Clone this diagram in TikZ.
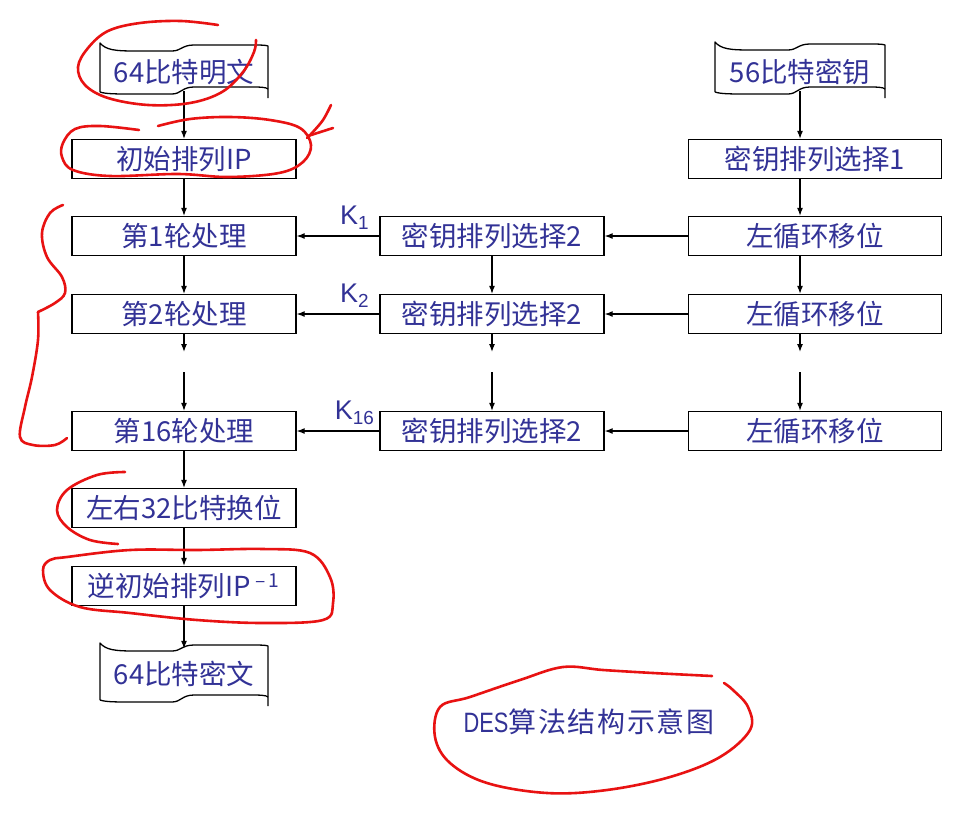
\documentclass[tikz,border=0pt]{standalone}
\usepackage{fontspec}
\setmainfont{Noto Sans CJK SC}
\newfontfamily\narrowfont[FakeStretch=0.78]{Liberation Sans}
\newfontfamily\latinfont{Liberation Sans}
\usetikzlibrary{arrows.meta,calc}
\definecolor{txtblue}{RGB}{50,50,150}
\definecolor{inkred}{RGB}{232,18,18}
\newcommand\boxfont{\fontsize{27.5}{30}\selectfont}
\newcommand\klabelfont{\latinfont\fontsize{27}{30}\selectfont}
% tape outline: x0, x1, ya (top-left corner), yb (bottom-left corner)
\newcommand\tapeoutline[4]{%
  \draw[boxline] (#1,#4) -- (#1,#3)
    .. controls ({#1+6},{#3+7}) and ({#1+15},{#3+8}) .. ({#1+35},{#3+8})
    -- ({(#1+#2)/2-12},{#3+8})
    .. controls ({(#1+#2)/2-3},{#3+8}) and ({(#1+#2)/2-2},{#3+2}) .. ({(#1+#2)/2+10},{#3+2})
    -- ({#2-20},{#3+2})
    .. controls ({#2-8},{#3+2}) and ({#2-2},{#3+2}) .. (#2,{#3+3})
    -- (#2,{#4+6});
  \draw[boxline] (#1,#4)
    .. controls ({#1+6},{#4+2}) and ({#1+15},{#4+2}) .. ({#1+35},{#4+2})
    -- ({(#1+#2)/2-12},{#4+2})
    .. controls ({(#1+#2)/2-3},{#4+2}) and ({(#1+#2)/2-2},{#4-5}) .. ({(#1+#2)/2+10},{#4-5})
    -- ({#2-20},{#4-5})
    .. controls ({#2-8},{#4-5}) and ({#2-2},{#4-5}) .. (#2,{#4-3});
}
\tikzset{
  boxline/.style={line width=1.3pt, black, line join=round},
  procbox/.style={draw, line width=1.3pt, minimum width=224pt, minimum height=39pt,
    inner sep=0pt, text=txtblue, font=\boxfont},
  widebox/.style={procbox, minimum width=253pt},
  tapetext/.style={inner sep=0pt, minimum width=168pt, text=txtblue, font=\boxfont},
  flow/.style={line width=1.2pt, -{Latex[length=8pt,width=6pt]}},
  klabel/.style={text=txtblue, font=\klabelfont, inner sep=0pt},
  redink/.style={draw=inkred, line width=2.6pt, line cap=round, line join=round},
  titletext/.style={text=txtblue, inner sep=0pt}
}
\begin{document}
\begin{tikzpicture}[x=1pt,y=-1pt]
\useasboundingbox (0,0) rectangle (979,819);
\fill[white] (0,0) rectangle (979,819);

% tapes
\tapeoutline{100}{268}{43}{92}
\tapeoutline{715}{885}{42}{92}
\tapeoutline{100}{268}{643}{700}
\node[tapetext, minimum height=38pt] (pt) at (184,72) {64比特明文};
\node[tapetext, minimum height=38pt, minimum width=170pt] (kt) at (800,72) {56比特密钥};
\node[tapetext, minimum height=50pt] (ct) at (184,674) {64比特密文};

% left column
\node[procbox] (ip) at (184,159) {初始排列IP};
\node[procbox] (r1) at (184,236) {第1轮处理};
\node[procbox] (r2) at (184,314) {第2轮处理};
\node[procbox] (r16) at (184,431) {第16轮处理};
\node[procbox] (sw) at (184,508) {左右32比特换位};
\node[procbox] (iip) at (184,586) {逆初始排列IP\,\textsuperscript{–\,1}};

% middle column
\node[procbox] (p21) at (492,236) {密钥排列选择2};
\node[procbox] (p22) at (492,314) {密钥排列选择2};
\node[procbox] (p216) at (492,431) {密钥排列选择2};

% right column
\node[widebox] (pc1) at (815,159) {密钥排列选择1};
\node[widebox] (ls1) at (815,236) {左循环移位};
\node[widebox] (ls2) at (815,314) {左循环移位};
\node[widebox] (ls16) at (815,431) {左循环移位};

% stub coordinates
\coordinate (lA) at (184,352);
\coordinate (lB) at (184,372);
\coordinate (mA) at (492,352);
\coordinate (mB) at (492,372);
\coordinate (rA) at (800,352);
\coordinate (rB) at (800,372);

% left flow
\draw[flow] (pt.south) -- (ip.north);
\draw[flow] (ip) -- (r1);
\draw[flow] (r1) -- (r2);
\draw[flow] (r2.south) -- (lA);
\draw[flow] (lB) -- (r16.north);
\draw[flow] (r16) -- (sw);
\draw[flow] (sw) -- (iip);
\draw[flow] (iip.south) -- (ct.north);

% middle flow
\draw[flow] (p21) -- (p22);
\draw[flow] (p22.south) -- (mA);
\draw[flow] (mB) -- (p216.north);

% right flow
\draw[flow] (kt.south) -- (pc1.north -| kt.south);
\draw[flow] (pc1.south -| kt.south) -- (ls1.north -| kt.south);
\draw[flow] (ls1.south -| kt.south) -- (ls2.north -| kt.south);
\draw[flow] (ls2.south -| kt.south) -- (rA);
\draw[flow] (rB) -- (ls16.north -| kt.south);

% horizontal flows
\draw[flow] (ls1) -- (p21);
\draw[flow] (ls2) -- (p22);
\draw[flow] (ls16) -- (p216);
\draw[flow] (p21) -- node[klabel, pos=0.3, above=6pt] {K\textsubscript{1}} (r1);
\draw[flow] (p22) -- node[klabel, pos=0.3, above=6pt] {K\textsubscript{2}} (r2);
\draw[flow] (p216) -- node[klabel, pos=0.3, above=6pt] {K\textsubscript{16}} (r16);

% title
\node[titletext] (title) at (589,722) {\fontsize{28}{30}\selectfont{\narrowfont DES}\addfontfeature{LetterSpace=6}算法结构示意图};

% red hand annotations
\draw[redink] plot[smooth, tension=0.6] coordinates {(218,25) (181,21) (140,23) (108,31) (88,48) (78,67) (85,85) (108,98) (148,105) (190,103) (222,92) (243,72) (254,52) (256,40)};
\draw[redink] plot[smooth, tension=0.6] coordinates {(139,130) (100,126) (75,129) (63,143) (62,157) (73,170) (110,176) (178,174) (228,177) (279,173) (303,162) (311,145) (300,128) (270,120) (230,117) (190,119) (158,126)};
\draw[redink] plot[smooth, tension=0.6] coordinates {(331,105) (323,120) (312,133) (307,138)};
\draw[redink] (308,136) -- (333,128);
\draw[redink] plot[smooth, tension=0.6] coordinates {(63,205) (50,213) (42,233) (47,257) (62,277) (65,293) (55,303) (38,312)};
\draw[redink] plot[smooth, tension=0.6] coordinates {(38,312) (38,340) (32,377) (25,407) (20,437) (33,445) (55,445) (67,438)};
\draw[redink] plot[smooth, tension=0.6] coordinates {(125,472) (97,475) (67,490) (57,510) (67,527) (90,540) (118,544)};
\draw[redink] plot[smooth cycle, tension=0.6] coordinates {(67,557) (130,550) (197,550) (263,549) (310,553) (330,577) (333,603) (323,620) (263,623) (197,620) (130,613) (80,607) (50,590) (43,570) (50,560)};
\draw[redink] plot[smooth, tension=0.6] coordinates {(712,676) (653,673) (603,670) (563,667) (520,680) (470,697) (440,707) (435,737) (450,763) (487,783) (547,793) (607,790) (670,777) (720,757) (750,730) (748,707) (733,690) (724,683)};
\end{tikzpicture}
\end{document}
